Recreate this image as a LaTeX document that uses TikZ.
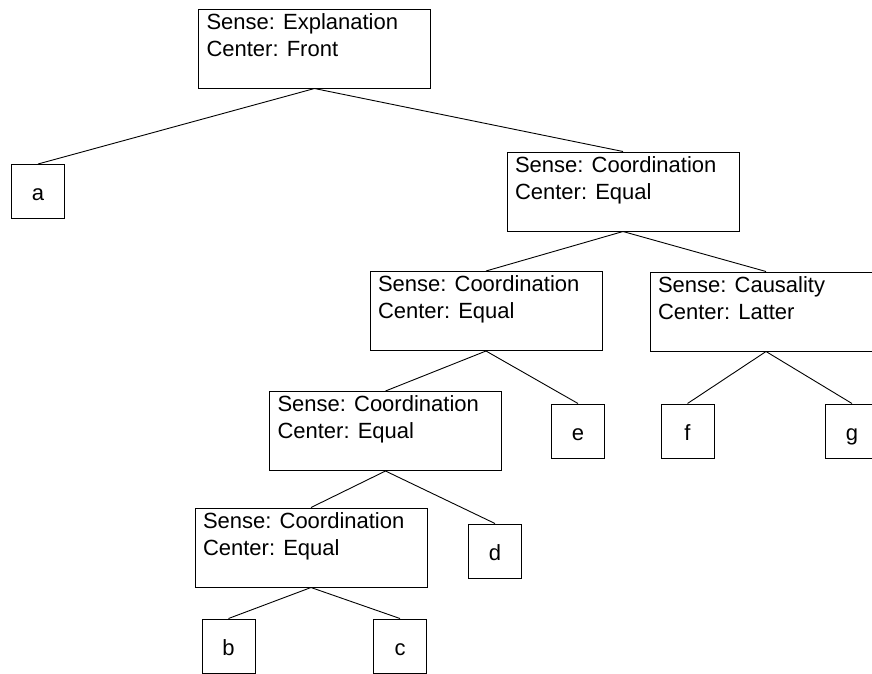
\documentclass[tikz,border=0pt]{standalone}
\usepackage{fontspec}
\setmainfont{Liberation Sans}
% two-line label set at the top left of a relation box
\newcommand{\senselabel}[2]{\parbox[c][79pt][t]{216pt}{\raggedright\rule{0pt}{20pt}Sense: #1\\Center: #2}}
\begin{document}
\begin{tikzpicture}[x=1pt,y=-1pt,
  every node/.style={font=\fontsize{22}{27}\selectfont},
  sensebox/.style={draw, line width=1pt, rectangle, minimum width=232pt, minimum height=79pt, inner sep=0pt},
  leafbox/.style={draw, line width=1pt, rectangle, minimum width=53pt, minimum height=54pt, inner sep=0pt,
    text height=18pt, text depth=0pt},
  edge/.style={line width=0.9pt}]
\path[use as bounding box, clip] (0,0) rectangle (872,673);

% relation boxes
\node[sensebox] (root) at (314.5,48.5) {\senselabel{Explanation}{Front}};
\node[sensebox] (c1)   at (623,191.5)  {\senselabel{Coordination}{Equal}};
\node[sensebox] (c2)   at (486,311)    {\senselabel{Coordination}{Equal}};
\node[sensebox] (cau)  at (766,311.5)  {\senselabel{Causality}{Latter}};
\node[sensebox] (c3)   at (385.5,431)  {\senselabel{Coordination}{Equal}};
\node[sensebox] (c4)   at (311,547.5)  {\senselabel{Coordination}{Equal}};

% leaf units
\node[leafbox] (a) at (38,191.5)  {a};
\node[leafbox] (e) at (578,431)   {e};
\node[leafbox] (f) at (687.5,431) {f};
\node[leafbox] (g) at (852,431)   {g};
\node[leafbox] (d) at (495,551)   {d};
\node[leafbox] (b) at (228.5,646) {b};
\node[leafbox] (c) at (400,646)   {c};

% tree edges
\draw[edge] (root.south) -- (a.north);
\draw[edge] (root.south) -- (c1.north);
\draw[edge] (c1.south) -- (c2.north);
\draw[edge] (c1.south) -- (cau.north);
\draw[edge] (c2.south) -- (c3.north);
\draw[edge] (c2.south) -- (e.north);
\draw[edge] (cau.south) -- (f.north);
\draw[edge] (cau.south) -- (g.north);
\draw[edge] (c3.south) -- (c4.north);
\draw[edge] (c3.south) -- (d.north);
\draw[edge] (c4.south) -- (b.north);
\draw[edge] (c4.south) -- (c.north);
\end{tikzpicture}
\end{document}
